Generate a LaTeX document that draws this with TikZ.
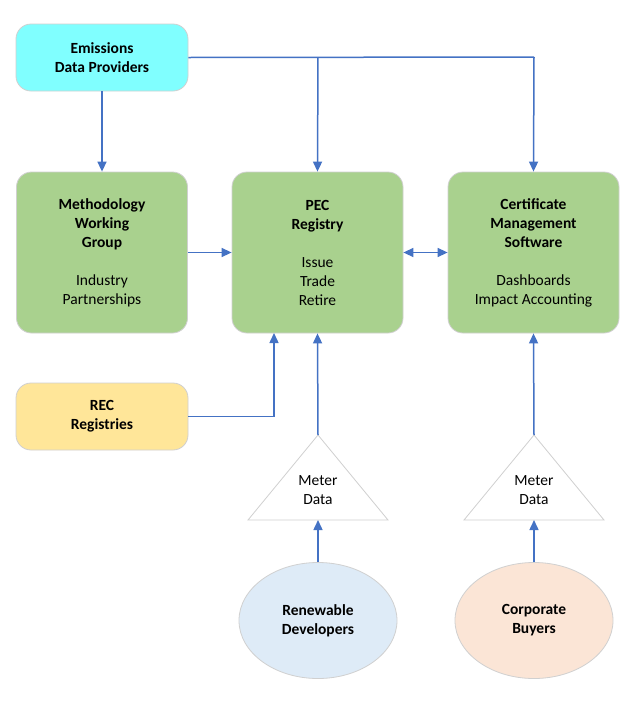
\documentclass[tikz,border=0pt]{standalone}
\usepackage{fontspec}
\setmainfont{Carlito}
\usetikzlibrary{shapes.geometric,arrows.meta}
\definecolor{lineblue}{HTML}{4472C4}
\definecolor{cyanfill}{HTML}{80FFFF}
\definecolor{greenfill}{HTML}{A9D18E}
\definecolor{yellowfill}{HTML}{FFE699}
\definecolor{bluefill}{HTML}{DEEBF7}
\definecolor{peachfill}{HTML}{FBE5D6}
\definecolor{bordergray}{HTML}{D0D0D0}
\tikzset{
  box/.style={draw=bordergray, line width=0.8pt, rounded corners=15pt, minimum width=172pt, align=center, inner sep=0pt, font=\fontsize{15.5}{19}\selectfont},
  bigbox/.style={box, fill=greenfill, minimum width=171pt, minimum height=161pt},
  oval/.style={ellipse, draw=bordergray, line width=0.8pt, minimum width=158pt, minimum height=116pt, align=center, inner sep=0pt, font=\fontsize{15.5}{19}\selectfont\bfseries},
  tri/.style={draw=bordergray, line width=0.8pt, fill=white},
  txt/.style={align=center, inner sep=0pt, font=\fontsize{15.5}{19}\selectfont},
  conn/.style={draw=lineblue, line width=1.5pt, -{Triangle[length=10pt,width=9pt]}},
  conn2/.style={draw=lineblue, line width=1.5pt, {Triangle[length=10pt,width=9pt]}-{Triangle[length=10pt,width=9pt]}},
  plain/.style={draw=lineblue, line width=1.5pt}
}
\begin{document}
\begin{tikzpicture}[x=1pt,y=-1pt]
\useasboundingbox (0,0) rectangle (643,710);
\fill[white] (0,0) rectangle (643,710);
% nodes
\node[box, fill=cyanfill, minimum height=67pt] (emi) at (102,57.5) {\textbf{Emissions}\\\textbf{Data Providers}};
\node[bigbox] (meth) at (102,252.5) {\textbf{Methodology}\\\textbf{Working}\\\textbf{Group}\\[19pt]Industry\\Partnerships};
\node[bigbox] (pec) at (317.5,252.5) {\textbf{PEC}\\\textbf{Registry}\\[19pt]Issue\\Trade\\Retire};
\node[bigbox] (cert) at (533.5,252.5) {\textbf{Certificate}\\\textbf{Management}\\\textbf{Software}\\[19pt]Dashboards\\Impact Accounting};
\node[box, fill=yellowfill, minimum height=67pt] (rec) at (102,416.5) {\textbf{REC}\\\textbf{Registries}};
% triangles
\draw[tri] (318,435) -- (388,520) -- (248,520) -- cycle;
\draw[tri] (534,435) -- (604,520) -- (464,520) -- cycle;
\coordinate (t1top) at (318,435);
\coordinate (t1base) at (318,520);
\coordinate (t2top) at (534,435);
\coordinate (t2base) at (534,520);
\node[txt] (t1) at (318,490) {Meter\\Data};
\node[txt] (t2) at (534,490) {Meter\\Data};
% ellipses
\node[oval, fill=bluefill] (ren) at (318,620.5) {Renewable\\Developers};
\node[oval, fill=peachfill] (corp) at (534,620.5) {Corporate\\Buyers};
% connectors
\coordinate (corner) at (534,57);
\coordinate (branch) at (318,57);
\coordinate (recturn) at (274,333);
\draw[plain] (emi.east) -- (corner);
\draw[conn] (corner) -- (cert.north);
\draw[conn] (branch) -- (pec.north);
\draw[conn] (emi.south) -- (meth.north);
\draw[conn] (meth.east) -- (pec.west);
\draw[conn2] (pec.east) -- (cert.west);
\draw[conn] (rec.east) -| (recturn);
\draw[conn] (t1top) -- (pec.south);
\draw[conn] (t2top) -- (cert.south);
\draw[conn] (ren.north) -- (t1base);
\draw[conn] (corp.north) -- (t2base);
\end{tikzpicture}
\end{document}
